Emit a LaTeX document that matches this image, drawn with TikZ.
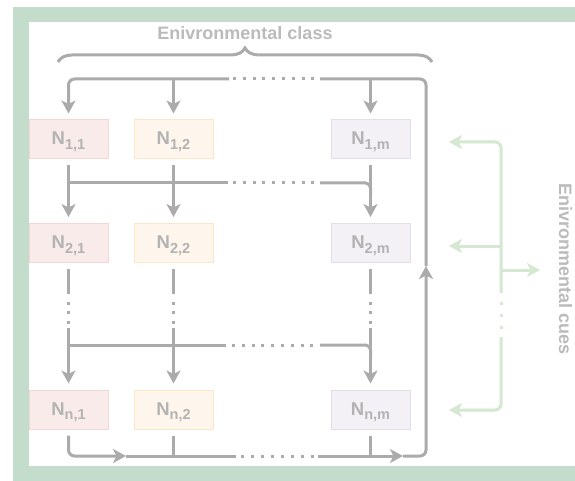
\documentclass[tikz,border=0pt]{standalone}
\usepackage{fontspec}
\setmainfont{Liberation Sans}
\usetikzlibrary{arrows.meta,decorations.pathreplacing}
\definecolor{frameg}{HTML}{C4DCCB}
\definecolor{lineg}{HTML}{ABABAB}
\definecolor{cueg}{HTML}{D5E8D1}
\definecolor{txtg}{HTML}{BBBBBB}
\definecolor{ntxt}{HTML}{B3B3B3}
\definecolor{pinkf}{HTML}{FAEBEB}
\definecolor{pinkd}{HTML}{F3D6D6}
\definecolor{orf}{HTML}{FEF5EC}
\definecolor{ord}{HTML}{FAE6C8}
\definecolor{lavf}{HTML}{F3F0F6}
\definecolor{lavd}{HTML}{E4DEE9}
\newcommand{\nlab}[1]{N\raisebox{-4.5pt}{\fontsize{14.5}{14.5}\selectfont #1}}
\tikzset{
  conn/.style={draw=lineg, line width=3pt},
  cue/.style={draw=cueg, line width=3pt},
  tipa/.style={-{Stealth[length=13pt,width=14pt,inset=3.5pt]}},
  hdots/.style={dash pattern=on 3pt off 6.8pt},
  bdots/.style={dash pattern=on 3pt off 7pt},
  vdots/.style={dash pattern=on 3pt off 6.5pt},
  gdots/.style={dash pattern=on 3pt off 9pt},
  nbox/.style={minimum width=79pt, minimum height=39pt, inner sep=0pt, outer sep=6.5pt,
    text height=13pt, text depth=2pt,
    line width=1pt, text=ntxt, font=\fontsize{18.5}{18.5}\selectfont\bfseries},
  pinkbox/.style={nbox, fill=pinkf, draw=pinkd},
  orbox/.style={nbox, fill=orf, draw=ord},
  lavbox/.style={nbox, fill=lavf, draw=lavd},
  lbl/.style={text=txtg, inner sep=0pt, font=\fontsize{18}{18}\selectfont\bfseries}
}
\begin{document}
\begin{tikzpicture}[x=1pt,y=-1pt]
\useasboundingbox (0,0) rectangle (575,481);
% frame
\fill[frameg] (13,7) rectangle (575,481);
\fill[white] (29,22) rectangle (575,466);

% nodes
\node[pinkbox] (n11) at (68.5,139.5) {\nlab{1,1}};
\node[orbox]   (n12) at (173.5,139.5) {\nlab{1,2}};
\node[lavbox]  (n1m) at (370.5,139.5) {\nlab{1,m}};
\node[pinkbox] (n21) at (68.5,243) {\nlab{2,1}};
\node[orbox]   (n22) at (173.5,243) {\nlab{2,2}};
\node[lavbox]  (n2m) at (370.5,243) {\nlab{2,m}};
\node[pinkbox] (nn1) at (68.5,409.5) {\nlab{n,1}};
\node[orbox]   (nn2) at (173.5,409.5) {\nlab{n,2}};
\node[lavbox]  (nnm) at (370.5,409.5) {\nlab{n,m}};

% labels
\node[lbl] (cls) at (245,33) {Enivronmental class};
\node[lbl, rotate=-90] (cues) at (565.5,269) {Enivronmental cues};

% brace
\coordinate (brL) at (58,62);
\coordinate (brR) at (432,62);
\draw[conn, decorate, decoration={brace, amplitude=14pt}] (brL) -- (brR);

% coordinates of the loop
\coordinate (t1) at (68.5,79);
\coordinate (t2) at (173.5,79);
\coordinate (tm) at (370.5,79);
\coordinate (tR) at (426,79);
\coordinate (tda) at (229,79);
\coordinate (tdb) at (320,79);
\coordinate (upR) at (426,266);
\coordinate (b1) at (68.5,456);
\coordinate (b2) at (173.5,456);
\coordinate (bm) at (370.5,456);
\coordinate (bR) at (426,456);
\coordinate (ba) at (126,456);
\coordinate (bda) at (236,456);
\coordinate (bdb) at (318,456);
\coordinate (bb) at (403,456);

% top loop
\draw[conn, rounded corners=6pt] (upR) -- (tR) -- (tdb);
\draw[conn, hdots] (233,79) -- (316,79);
\draw[conn, tipa, rounded corners=6pt] (tda) -- (t1) -- (n11.north);
\draw[conn, tipa] (t2) -- (n12.north);
\draw[conn, tipa] (tm) -- (n1m.north);

% bottom loop
\draw[conn, tipa, rounded corners=6pt] (nn1.south) -- (b1) -- (ba);
\draw[conn] (ba) -- (bda);
\draw[conn, bdots] (241,456) -- (315,456);
\draw[conn, tipa] (bdb) -- (bb);
\draw[conn, tipa, rounded corners=6pt] (bb) -- (bR) -- (upR);
\draw[conn] (nn2.south) -- (b2);
\draw[conn] (nnm.south) -- (bm);

% bus row 1 -> row 2
\coordinate (h1a) at (68.5,183);
\coordinate (h1b) at (228,183);
\coordinate (h1c) at (320,183);
\coordinate (h1m) at (370.5,183);
\coordinate (h1d) at (370.5,196);
\draw[conn, tipa] (n11.south) -- (n21.north);
\draw[conn, tipa] (n12.south) -- (n22.north);
\draw[conn, tipa] (n1m.south) -- (n2m.north);
\draw[conn] (h1a) -- (h1b);
\draw[conn, hdots] (233,183) -- (316,183);
\draw[conn, rounded corners=5pt] (h1c) -- (h1m) -- (h1d);

% bus row 2 -> row n
\foreach \c/\top/\bot in {68.5/n21/nn1, 173.5/n22/nn2, 370.5/n2m/nnm}{
  \draw[conn] (\top.south) -- (\c,294);
  \draw[conn, vdots] (\c,301.5) -- (\c,324);
  \draw[conn, tipa] (\c,328) -- (\bot.north);
}
\coordinate (h2a) at (68.5,345);
\coordinate (h2b) at (226,345);
\coordinate (h2c) at (320,345);
\coordinate (h2m) at (370.5,345);
\coordinate (h2d) at (370.5,358);
\draw[conn] (h2a) -- (h2b);
\draw[conn, hdots] (232,345) -- (315,345);
\draw[conn, rounded corners=5pt] (h2c) -- (h2m) -- (h2d);

% environmental cues bracket
\coordinate (gv1) at (501,293);
\coordinate (gtop) at (501,142);
\coordinate (g1) at (449,142);
\coordinate (gv2) at (501,337);
\coordinate (gbot) at (501,410);
\coordinate (g3) at (449,410);
\coordinate (gm) at (501,246);
\coordinate (g2) at (449,246);
\coordinate (gr) at (501,270);
\coordinate (g4) at (540,270);
\draw[cue, tipa, rounded corners=6pt] (gv1) -- (gtop) -- (g1);
\draw[cue, gdots] (501,301.5) -- (501,329);
\draw[cue, tipa, rounded corners=6pt] (gv2) -- (gbot) -- (g3);
\draw[cue, tipa] (gm) -- (g2);
\draw[cue, tipa] (gr) -- (g4);
\end{tikzpicture}
\end{document}
